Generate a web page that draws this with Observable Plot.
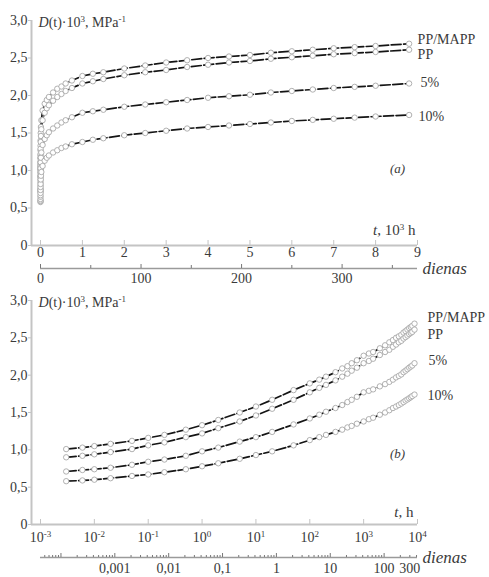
<!DOCTYPE html>
<html><head><meta charset="utf-8">
<script src="https://cdn.jsdelivr.net/npm/d3@7"></script>
<script src="https://cdn.jsdelivr.net/npm/@observablehq/plot@0.6"></script>
<style>
body{margin:0;background:#fff}
#chart{position:relative;width:489px;height:577px}
#chart svg{position:absolute;left:0}
</style>
</head><body><div id="chart"></div>
<script>
// ---- data ----
const seriesNames = ["PP/MAPP", "PP", "5%", "10%"];
const hours = [0.003,0.006,0.01,0.02,0.05,0.1,0.2,0.5,1,2,5,10,20,50,100,150,200,300,400,500,600,750,1000,1250,1500,2000,2500,3000,3500,4000,4500,5000,5500,6000,6500,7000,7500,8000,8800];
const ppMapp = [1.01,1.03,1.05,1.08,1.12,1.16,1.20,1.27,1.33,1.40,1.50,1.58,1.67,1.80,1.89,1.94,1.98,2.04,2.09,2.12,2.16,2.20,2.26,2.29,2.31,2.36,2.40,2.44,2.47,2.50,2.52,2.54,2.57,2.59,2.61,2.63,2.645,2.66,2.69];
const pp = [0.90,0.92,0.94,0.97,1.01,1.06,1.10,1.17,1.22,1.29,1.38,1.46,1.55,1.67,1.77,1.83,1.87,1.93,1.98,2.02,2.06,2.10,2.16,2.19,2.22,2.27,2.31,2.34,2.38,2.41,2.44,2.46,2.49,2.51,2.53,2.55,2.565,2.58,2.61];
const p5 = [0.71,0.73,0.74,0.76,0.80,0.84,0.87,0.92,0.98,1.03,1.11,1.17,1.24,1.34,1.42,1.47,1.51,1.56,1.60,1.64,1.67,1.71,1.77,1.79,1.81,1.85,1.88,1.91,1.94,1.97,1.99,2.01,2.04,2.06,2.08,2.10,2.115,2.13,2.16];
const p10 = [0.58,0.59,0.60,0.62,0.65,0.67,0.70,0.74,0.78,0.82,0.88,0.93,0.98,1.06,1.13,1.17,1.20,1.24,1.27,1.30,1.32,1.35,1.38,1.41,1.43,1.47,1.50,1.53,1.56,1.58,1.60,1.62,1.64,1.66,1.675,1.69,1.705,1.72,1.74];
const yTicks = [0, 0.5, 1, 1.5, 2, 2.5, 3];
const topXTicks = [0,1,2,3,4,5,6,7,8,9];           // 10^3 h
const topDayLabels = [0, 100, 200, 300];             // dienas
const topDayMinor = [50, 150, 250, 350];
const bottomXTicks = [1e-3,1e-2,1e-1,1e0,1e1,1e2,1e3,1e4]; // h
const bottomDayLabels = [0.001, 0.01, 0.1, 1, 10, 100, 300];
const yTitle = "*D*(t)·10^3, MPa^-1";
const topXTitle = "*t*, 10^3 h";
const bottomXTitle = "*t*, h";
const dayTitle = "dienas";

// ---- styling ----
const font = "'Liberation Serif', 'Times New Roman', serif";
const axisGray = "#c4c4c4";
const textCol = "#3a3a3a";
const topLabelDx = [8.5, 8.5, 11.5, 9.5], topLabelDy = [-4, 5, -1, 1.5];
const botLabelDx = [13, 13, 14, 13], botLabelDy = [-6, 4.5, -3, 1];

const seriesValues = [ppMapp, pp, p5, p10];
const rows = seriesNames.flatMap((s, i) => hours.map((h, j) => ({series: s, hours: h, kh: h / 1000, D: seriesValues[i][j]})));
const lastRows = seriesNames.map((s, i) => ({series: s, hours: hours.at(-1), kh: hours.at(-1) / 1000, D: seriesValues[i].at(-1)}));
const fmtComma = d => d === 0 ? "0" : d.toFixed(1).replace(".", ",");

function enrich(svg) {
  svg.querySelectorAll("text").forEach(t => {
    const s = t.textContent;
    if (!/[\^*]/.test(s)) return;
    t.innerHTML = s.replace(/&/g, "&amp;").replace(/</g, "&lt;")
      .replace(/\*([^*]+)\*/g, '<tspan font-style="italic">$1</tspan>')
      .replace(/\^([-\d]+)/g, '<tspan baseline-shift="super" font-size="9">$1</tspan>');
  });
}

const curveMarks = (xKey) => [
  Plot.line(rows, {x: xKey, y: "D", z: "series", stroke: "#151515", strokeWidth: 1.7, strokeDasharray: "10,2.5"}),
  Plot.dot(rows, {x: xKey, y: "D", r: 2.7, stroke: "#a8a8a8", fill: "white", strokeWidth: 0.9})
];
const yAxisMarks = (xMin) => [
  Plot.ruleX([xMin], {stroke: axisGray, strokeWidth: 2}),
  Plot.ruleY([0], {stroke: axisGray, strokeWidth: 2}),
  Plot.axisY(yTicks, {tickSize: 3, tickPadding: 1, tickFormat: fmtComma, stroke: axisGray, label: null, fontSize: 14}),
  Plot.text([yTitle], {frameAnchor: "top-left", dx: 7, dy: 2.5, textAnchor: "start", lineAnchor: "middle", fontSize: 14, fill: textCol})
];

// ---- top panel (linear) ----
const topXDomain = [-0.215, 9];
const topChart = Plot.plot({
  width: 489, height: 290,
  marginLeft: 31, marginRight: 72, marginTop: 20, marginBottom: 45,
  style: {fontFamily: font, fontSize: "14px", color: textCol, background: "transparent"},
  x: {domain: topXDomain},
  y: {domain: [0, 3]},
  marks: [
    ...yAxisMarks(topXDomain[0]),
    Plot.axisX(topXTicks, {tickSize: -5, tickPadding: 7, tickFormat: d => String(d), stroke: axisGray, label: null, fontSize: 14}),
    Plot.ruleY([0], {x1: topDayLabels[0] * 24 / 1000, x2: topXDomain[1], dy: 23, stroke: "#9a9a9a", strokeWidth: 1.5}),
    Plot.axisX(topDayLabels.map(d => d * 24 / 1000), {tickSize: -4, dy: 23, stroke: "#777", tickFormat: () => "", label: null}),
    Plot.axisX(topDayMinor.map(d => d * 24 / 1000), {tickSize: -3, dy: 23, stroke: "#777", tickFormat: () => "", label: null}),
    Plot.text(topDayLabels, {x: d => d * 24 / 1000, text: d => String(d), frameAnchor: "bottom", dy: 33, lineAnchor: "middle", fontSize: 14, fill: textCol}),
    Plot.text([dayTitle], {frameAnchor: "bottom-right", dx: 5, dy: 23, textAnchor: "start", lineAnchor: "middle", fontStyle: "italic", fontSize: 17, fill: textCol}),
    Plot.text([topXTitle], {frameAnchor: "bottom-right", dx: -2, dy: -15, textAnchor: "end", lineAnchor: "middle", fontSize: 15, fill: textCol}),
    Plot.text(["(a)"], {frameAnchor: "top-right", dx: -20, dy: 148, textAnchor: "middle", lineAnchor: "middle", fontStyle: "italic", fontSize: 13, fill: textCol}),
    ...curveMarks("kh"),
    ...seriesNames.map((s, i) => Plot.text([lastRows[i]], {x: "kh", y: "D", text: "series", dx: topLabelDx[i], dy: topLabelDy[i], textAnchor: "start", fontSize: 14, fill: textCol}))
  ]
});
topChart.style.top = "0px";

// ---- bottom panel (log) ----
const botXDomain = [6.81e-4, 1e4];
const botDayMinor = [], botDayDecades = [];
for (let k = -5; k <= 2; k++) for (let m = 1; m <= 9; m++) {
  const days = m * Math.pow(10, k), h = days * 24;
  if (h < 1e-3 || h > 1e4) continue;
  (m === 1 ? botDayDecades : botDayMinor).push(h);
}
const bottomChart = Plot.plot({
  width: 489, height: 287,
  marginLeft: 31, marginRight: 72, marginTop: 10, marginBottom: 53,
  style: {fontFamily: font, fontSize: "14px", color: textCol, background: "transparent"},
  x: {type: "log", domain: botXDomain},
  y: {domain: [0, 3]},
  marks: [
    ...yAxisMarks(botXDomain[0]),
    Plot.axisX(bottomXTicks, {tickSize: -5, tickPadding: 13, tickFormat: d => "10^" + Math.round(Math.log10(d)), stroke: axisGray, label: null, fontSize: 14}),
    Plot.ruleY([0], {x1: bottomXTicks[0], x2: bottomXTicks.at(-1), dy: 33, stroke: "#9a9a9a", strokeWidth: 1.5}),
    Plot.axisX(botDayDecades, {tickSize: -4, dy: 33, stroke: "#777", tickFormat: () => "", label: null}),
    Plot.axisX(botDayMinor, {tickSize: -2, dy: 33, stroke: "#777", tickFormat: () => "", label: null}),
    Plot.text(bottomDayLabels, {x: d => d * 24, text: d => String(d).replace(".", ","), frameAnchor: "bottom", dy: 44, lineAnchor: "middle", fontSize: 14, fill: textCol}),
    Plot.text([dayTitle], {frameAnchor: "bottom-right", dx: 5, dy: 33, textAnchor: "start", lineAnchor: "middle", fontStyle: "italic", fontSize: 17, fill: textCol}),
    Plot.text([bottomXTitle], {frameAnchor: "bottom-right", dx: -4, dy: -12, textAnchor: "end", lineAnchor: "middle", fontSize: 15, fill: textCol}),
    Plot.text(["(b)"], {frameAnchor: "top-right", dx: -20, dy: 153, textAnchor: "middle", lineAnchor: "middle", fontStyle: "italic", fontSize: 13, fill: textCol}),
    ...curveMarks("hours"),
    ...seriesNames.map((s, i) => Plot.text([lastRows[i]], {x: "hours", y: "D", text: "series", dx: botLabelDx[i], dy: botLabelDy[i], textAnchor: "start", fontSize: 14, fill: textCol}))
  ]
});
bottomChart.style.top = "290px";

enrich(topChart); enrich(bottomChart);
const chart = document.getElementById("chart");
chart.append(topChart, bottomChart);
</script></body></html>
